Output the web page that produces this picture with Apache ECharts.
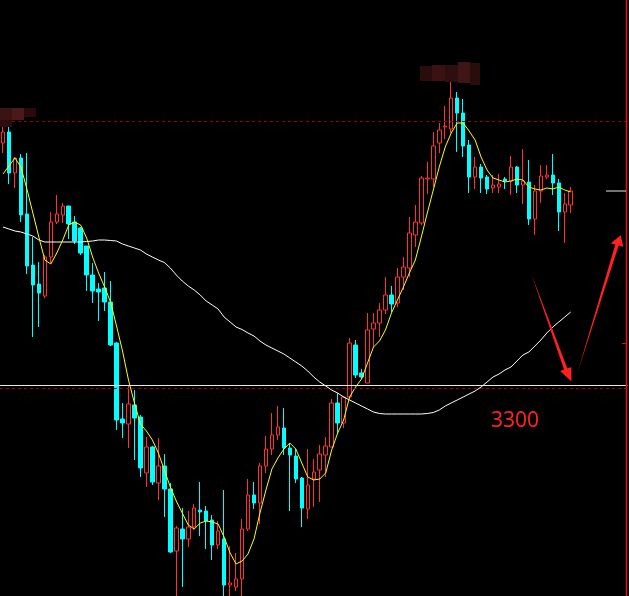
<!DOCTYPE html>
<html>
<head>
<meta charset="utf-8">
<style>
html,body{margin:0;padding:0;background:#000;}
#chart{width:629px;height:596px;}
</style>
<script src="https://cdn.jsdelivr.net/npm/echarts@6/dist/echarts.min.js"></script>
</head>
<body>
<div id="chart"></div>
<script>
// ---- data ----
const opens = [3542,3553,3512,3527,3471,3420,3401,3389,3428,3463,3470,3479,3463,3457,3439,3410,3396,3397,3383,3342,3266,3261,3280,3268,3212,3238,3202,3219,3196,3134,3156,3146,3158,3175,3174,3165,3140,3146,3100,3098,3106,3156,3190,3182,3219,3236,3250,3257,3237,3229,3207,3176,3206,3215,3230,3238,3282,3262,3288,3340,3312,3302,3356,3362,3375,3390,3382,3408,3417,3450,3462,3506,3506,3542,3558,3556,3587,3572,3540,3508,3518,3508,3497,3498,3506,3504,3518,3500,3503,3466,3494,3508,3510,3502,3473,3480];
const closes = [3553,3512,3527,3470,3419,3400,3392,3428,3463,3471,3479,3461,3444,3432,3410,3394,3393,3383,3340,3265,3262,3281,3267,3217,3238,3203,3219,3196,3133,3157,3146,3158,3177,3173,3164,3140,3154,3100,3102,3106,3156,3190,3182,3219,3236,3250,3258,3237,3230,3206,3177,3200,3213,3231,3239,3282,3262,3288,3342,3310,3308,3355,3362,3375,3390,3381,3408,3418,3452,3463,3507,3507,3539,3555,3559,3587,3572,3539,3508,3518,3507,3496,3500,3501,3504,3518,3500,3504,3466,3494,3509,3510,3502,3473,3481,3494];
const lows = [3532,3501,3497,3463,3411,3348,3358,3387,3422,3461,3462,3446,3441,3430,3394,3382,3364,3374,3339,3255,3247,3237,3225,3208,3198,3200,3185,3168,3132,3089,3098,3138,3155,3149,3136,3125,3136,3089,3089,3094,3089,3154,3176,3161,3212,3230,3245,3230,3174,3202,3158,3166,3178,3183,3208,3238,3251,3257,3288,3307,3306,3302,3338,3348,3371,3373,3378,3395,3408,3438,3460,3491,3498,3532,3546,3552,3533,3528,3492,3496,3492,3491,3492,3492,3496,3490,3492,3481,3460,3450,3482,3506,3490,3454,3442,3472];
const highs = [3559,3558,3528,3531,3532,3448,3423,3430,3473,3490,3482,3479,3469,3458,3439,3422,3402,3413,3404,3343,3282,3300,3295,3270,3248,3239,3247,3231,3202,3159,3177,3174,3181,3203,3179,3170,3164,3195,3139,3132,3166,3206,3203,3222,3249,3272,3279,3277,3242,3236,3208,3236,3226,3240,3248,3286,3292,3289,3347,3345,3316,3372,3372,3382,3408,3399,3417,3428,3468,3480,3509,3523,3553,3562,3579,3606,3593,3586,3545,3528,3521,3510,3510,3511,3508,3529,3519,3536,3525,3500,3520,3520,3531,3506,3492,3498];
const maShort = [3511,3519,3527,3518,3496,3472,3448,3425,3421,3432,3445,3460,3463,3460,3447,3428,3412,3398,3383,3359,3334,3305,3282,3261,3254,3245,3232,3215,3198,3184,3172,3160,3156,3162,3164,3163,3161,3148,3132,3121,3124,3131,3146,3172,3195,3216,3227,3236,3242,3236,3222,3208,3205,3206,3212,3235,3252,3265,3288,3298,3306,3322,3338,3344,3355,3372,3385,3398,3412,3425,3448,3472,3495,3518,3538,3552,3562,3562,3554,3545,3528,3515,3507,3505,3503,3504,3506,3505,3498,3496,3495,3497,3496,3498,3495,3493];
const maLong = [3458,3456,3454,3453,3451,3449,3445,3443,3443,3443,3443,3443,3443,3443,3443.5,3444,3445,3445,3444.5,3444,3441,3439,3437,3435,3431,3428,3425,3422.5,3417,3410,3404,3399,3395,3390,3384,3380,3376,3368,3363,3358,3355.5,3352,3349,3344,3340,3337,3334,3331,3327,3323,3319,3314,3308,3303,3299,3295,3292,3288,3285,3282,3279,3276,3273,3271.5,3271,3271,3271,3271,3271,3271,3271,3271.5,3272.5,3275,3279,3282,3285,3288,3291,3294,3298,3303,3308,3311,3315,3318,3324,3330,3333,3339,3345,3352,3358,3363,3368,3373];
const supportLevel = 3300;
const resistLevel = 3564;
const supportText = '3300';
const slotCount = 105;
const categories = Array.from({length: slotCount}, (_, i) => String(i + 1));

// ---- build ----
const candleData = opens.map((o, i) => [o, closes[i], lows[i], highs[i]]);
const RED = '#ff3232', CYAN = '#00ffff';

const chart = echarts.init(document.getElementById('chart'), null, {renderer: 'canvas'});
chart.setOption({
  backgroundColor: '#000',
  animation: false,
  grid: {left: -2.5, right: 1.5, top: 0, bottom: 0},
  xAxis: {type: 'category', data: categories, boundaryGap: true, show: false},
  yAxis: {type: 'value', min: 3089, max: 3685, show: false, splitLine: {show: false}},
  series: [
    {
      type: 'candlestick',
      data: candleData,
      barWidth: 4,
      itemStyle: {color: '#000', color0: CYAN, borderColor: RED, borderColor0: CYAN, borderWidth: 1},
      markLine: {
        silent: true, symbol: 'none', label: {show: false},
        data: [
          {yAxis: supportLevel, lineStyle: {color: '#e8e8e8', width: 1.2, type: 'solid'}},
          {yAxis: supportLevel - 3, lineStyle: {color: '#a00000', width: 1, type: [3, 3]}},
          {yAxis: resistLevel, lineStyle: {color: '#a00000', width: 1, type: [3, 3]}}
        ]
      },
      z: 2
    },
    {type: 'line', data: maLong, symbol: 'none', lineStyle: {color: '#ffffff', width: 1}, z: 3},
    {type: 'line', data: maShort, symbol: 'none', lineStyle: {color: '#ffff00', width: 1}, z: 4}
  ]
});

const lastY = chart.convertToPixel({yAxisIndex: 0}, closes[closes.length - 1]);
chart.setOption({
  graphic: [
    // blurred label blocks
    {type: 'rect', shape: {x: 0, y: 108, width: 12, height: 12}, style: {fill: '#3a1414'}, z: 10},
    {type: 'rect', shape: {x: 12, y: 108, width: 12, height: 12}, style: {fill: '#4a1a1a'}, z: 10},
    {type: 'rect', shape: {x: 24, y: 108, width: 12, height: 9}, style: {fill: '#2a0a0a'}, z: 10},
    {type: 'rect', shape: {x: 0, y: 120, width: 12, height: 7}, style: {fill: '#2c0c0c'}, z: 10},
    {type: 'rect', shape: {x: 420, y: 66, width: 12, height: 15}, style: {fill: '#2a0c0c'}, z: 10},
    {type: 'rect', shape: {x: 432, y: 65, width: 13, height: 16}, style: {fill: '#3a1212'}, z: 10},
    {type: 'rect', shape: {x: 445, y: 65, width: 13, height: 17}, style: {fill: '#2e0e0e'}, z: 10},
    {type: 'rect', shape: {x: 458, y: 62, width: 12, height: 21}, style: {fill: '#3e1616'}, z: 10},
    {type: 'rect', shape: {x: 470, y: 63, width: 10, height: 22}, style: {fill: '#2a0c0c'}, z: 10},
    // right border and tick
    {type: 'line', shape: {x1: 626.5, y1: 0, x2: 626.5, y2: 596}, style: {stroke: '#e01010', lineWidth: 1.5}, z: 10},
    {type: 'line', shape: {x1: 622, y1: 343.5, x2: 626, y2: 343.5}, style: {stroke: '#e01010', lineWidth: 1}, z: 10},
    // last price marker
    {type: 'line', shape: {x1: 606, y1: lastY, x2: 626, y2: lastY}, style: {stroke: '#e8e8e8', lineWidth: 1}, z: 10},
    // arrows
    {type: 'polygon', shape: {points: [[531,273],[567.4,368.4],[571.3,366.9],[571.5,381.5],[560.1,371.1],[564,369.6]]}, style: {fill: '#ff2020'}, z: 10},
    {type: 'polygon', shape: {points: [[577.3,373.3],[615.3,244.5],[610.7,243.3],[620.7,235.3],[623.3,246.7],[618.7,245.5]]}, style: {fill: '#ff2020'}, z: 10},
    // label
    {type: 'text', x: 491, y: 421, style: {text: supportText, fill: '#ff2020', font: '21px "Noto Sans"', textAlign: 'left', textVerticalAlign: 'middle'}, z: 10}
  ]
});
</script>
</body>
</html>
